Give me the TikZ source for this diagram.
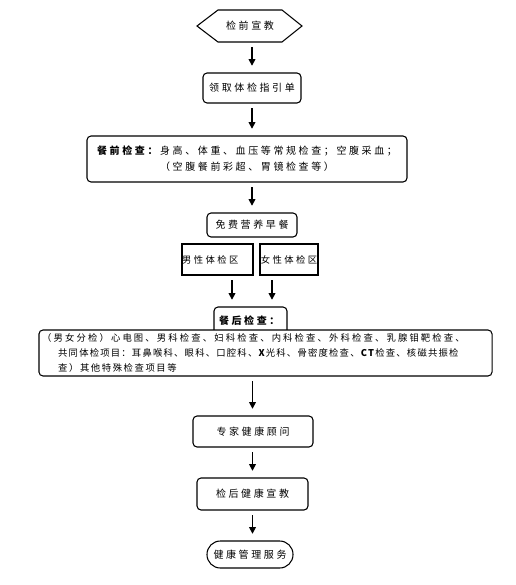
\documentclass[tikz,border=0pt]{standalone}
\usepackage{fontspec}
\setmainfont{Noto Sans CJK SC}[LetterSpace=26]
\newfontfamily\tightcjk{Noto Sans CJK SC}[LetterSpace=17]
\newfontfamily\widecjk{Noto Sans CJK SC}[LetterSpace=23]
\newfontfamily\narrowcjk{Noto Sans CJK SC}[LetterSpace=13]
\usetikzlibrary{arrows.meta,calc}
\begin{document}
\begin{tikzpicture}[x=0.75pt,y=-0.75pt,
  ln/.style={line width=0.8pt},
  txt/.style={inner sep=0pt, font=\fontsize{7.5pt}{12pt}\selectfont},
  rbox/.style={txt, draw, line width=0.8pt, rounded corners=3pt},
  sbox/.style={txt, draw, line width=0.9pt},
  arr/.style={line width=1.1pt, -{Triangle[length=5pt,width=5pt]}, shorten <=3.5pt, shorten >=5pt}]
\useasboundingbox (0,0) rectangle (515,585);
% hexagon
\draw[ln] (197,26) -- (218,10) -- (282,10) -- (302,26) -- (282,42) -- (218,42) -- cycle;
\node[txt, minimum width=78.75pt, minimum height=24pt] (n1) at (250,26) {检前宣教};
\node[rbox, minimum width=73.5pt, minimum height=22.5pt] (n2) at (252,88) {领取体检指引单};
\node[rbox, minimum width=240pt, minimum height=34.5pt, align=center] (n3) at (247,159)
  {\textbf{餐前检查：}身高、体重、血压等常规检查；空腹采血；\\（空腹餐前彩超、胃镜检查等）};
\node[rbox, minimum width=67.5pt, minimum height=18pt] (n4) at (252,225) {免费营养早餐};
\node[sbox, text width=53.25pt, minimum height=23.25pt, align=left, font=\fontsize{7pt}{10pt}\selectfont] (male) at (217.5,259.5) {男性体检区};
\node[sbox, minimum width=43.5pt, minimum height=23.25pt, font=\fontsize{7pt}{10pt}\selectfont] (female) at (289,259.5) {女性体检区};
\node[rbox, minimum width=54.75pt, minimum height=21pt] (n6) at (250.5,321) {\textbf{餐后检查：}};
\node[rbox, fill=white, text width=335pt, inner xsep=2.4pt, minimum height=34.5pt, align=left,
  font=\tightcjk\fontsize{7pt}{11.5pt}\selectfont] (n7) at (265.5,353)
  {{\widecjk（男女分检）心电图、男科检查、妇科检查、内科检查、外科检查、乳腺钼靶检查、}\\
   \hspace*{12pt}{\narrowcjk 共同体检项目：耳鼻喉科、眼科、口腔科、\textbf{X}光科、骨密度检查、\textbf{CT}检查、核磁共振检}\\
   \hspace*{12pt}查）其他特殊检查项目等};
\node[rbox, minimum width=90pt, minimum height=23.25pt] (n8) at (253,431.5) {专家健康顾问};
\node[rbox, minimum width=83.25pt, minimum height=24pt] (n9) at (252.5,494) {检后健康宣教};
\node[txt, draw, line width=0.8pt, rounded corners=10pt, minimum width=64.5pt, minimum height=20.25pt] (n10) at (250,554.5) {健康管理服务};
% arrows
\draw[arr] (n2.north |- n1.south) -- (n2.north);
\draw[arr] (n2.south) -- (n2.south |- n3.north);
\draw[arr] (n2.south |- n3.south) -- (n2.south |- n4.north);
\coordinate (m1) at ($(male.south)+(14.5,0)$);
\coordinate (f1) at ($(female.south)+(-17,0)$);
\draw[arr] (m1) -- (m1 |- n6.north);
\draw[arr] (f1) -- (f1 |- n6.north);
\draw[arr] (n9.north |- n7.south) -- (n9.north |- n8.north);
\draw[arr] (n9.north |- n8.south) -- (n9.north);
\draw[arr] (n9.south) -- (n9.south |- n10.north);
\end{tikzpicture}
\end{document}
